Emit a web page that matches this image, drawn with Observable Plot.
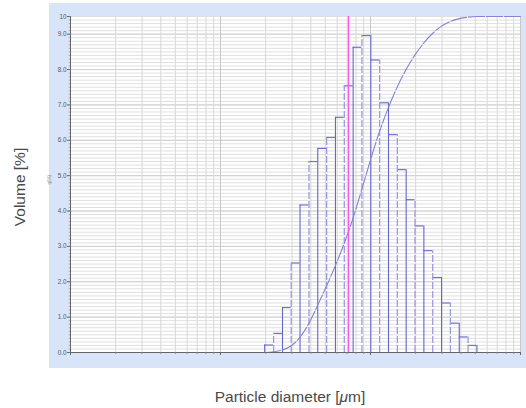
<!DOCTYPE html>
<html>
<head>
<meta charset="utf-8">
<script src="https://cdn.jsdelivr.net/npm/d3@7"></script>
<script src="https://cdn.jsdelivr.net/npm/@observablehq/plot@0.6"></script>
<style>
  html, body { margin: 0; padding: 0; background: #ffffff; }
  #wrap { position: relative; width: 526px; height: 408px; overflow: hidden; font-family: "Liberation Sans", Arial, sans-serif; }
  #panel { position: absolute; left: 49px; top: 3px; width: 477px; height: 365px; background: #d8e4f8; }
  #chart { position: absolute; left: 0; top: 0; }
  #ytitle { position: absolute; left: 20px; top: 187px; transform: translate(-50%, -50%) rotate(-90deg); white-space: nowrap; font-size: 15.5px; color: #4a4a4a; }
  #xtitle { position: absolute; left: 290px; top: 397px; transform: translate(-50%, -50%); white-space: nowrap; font-size: 15.5px; color: #4a4a4a; }
</style>
</head>
<body>
<div id="wrap">
  <div id="panel"></div>
  <div id="chart"></div>
  <div id="ytitle">Volume [%]</div>
  <div id="xtitle">Particle diameter [<i>μ</i>m]</div>
</div>
<script>
// Bin edges (µm) and volume per bin (%)
const binEdges = [0.197,0.226,0.259,0.296,0.339,0.389,0.445,0.510,0.584,0.669,0.766,0.877,1.005,1.151,1.318,1.510,1.729,1.981,2.269,2.599,2.976,3.409,3.905,4.472,5.122];
const volume = [0.21,0.54,1.27,2.53,4.17,5.40,5.77,6.08,6.65,7.54,8.63,8.96,8.27,7.06,6.16,5.17,4.32,3.58,2.88,2.12,1.40,0.83,0.44,0.20];
// Axis ticks and labels
const yTicks = [0,1,2,3,4,5,6,7,8,9,9.5];
const yTickLabels = ["0.0","1.0","2.0","3.0","4.0","5.0","6.0","7.0","8.0","9.0","10"];
const xTicks = [0.01,0.1,1,10];
const xTickLabels = ["0.010","0.100","1.000","10.00"];
const yMax = 9.5;
const markerX = [0.713];

// Derived tables
const bars = volume.map((v, i) => ({lo: binEdges[i], hi: binEdges[i+1], v}));
const edgeRows = binEdges.map((e, i) => ({x: e, h: Math.max(i > 0 ? volume[i-1] : 0, i < volume.length ? volume[i] : 0), i}));
const total = d3.sum(volume);
const cum = [0, ...d3.cumsum(volume)].map(c => c / total * 100);
const cumRows = binEdges.map((e, i) => ({x: e, c: cum[i]}));
cumRows.push({x: 10, c: 100});

const decades = [0.01, 0.1, 1];
const minorX = decades.flatMap(d => [2,3,4,5,6,7,8,9].map(m => d * m));
const yMinor = d3.range(0, 96).map(i => i / 10);

const chart = Plot.plot({
  width: 526,
  height: 408,
  marginLeft: 70,
  marginRight: 6,
  marginTop: 16,
  marginBottom: 56,
  style: {background: "transparent", fontFamily: "Liberation Sans, Arial, sans-serif"},
  x: {type: "log", domain: [0.01, 10], axis: null},
  y: {domain: [0, yMax], axis: null},
  marks: [
    Plot.frame({fill: "white", stroke: null}),
    Plot.ruleY(yMinor, {stroke: "#e0e0e0", strokeWidth: 1}),
    Plot.ruleY([0,1,2,3,4,5,6,7,8,9], {stroke: "#d0d0d0", strokeWidth: 1}),
    Plot.ruleX(minorX, {stroke: "#d8d8d8", strokeWidth: 1}),
    Plot.ruleX(xTicks, {stroke: "#c8c8c8", strokeWidth: 1}),
    // histogram tops
    Plot.ruleY(bars, {x1: "lo", x2: "hi", y: "v", stroke: "#7070d2", strokeWidth: 1.2}),
    // vertical bar edges, alternating style
    Plot.ruleX(edgeRows.filter(d => d.i % 2 === 0), {x: "x", y1: 0, y2: "h", stroke: "#6666cc", strokeWidth: 1.1}),
    Plot.ruleX(edgeRows.filter(d => d.i % 2 === 1), {x: "x", y1: 0, y2: "h", stroke: "#9c9ce0", strokeWidth: 1.3, strokeDasharray: "7,2"}),
    // cumulative curve
    Plot.line(cumRows, {x: "x", y: d => d.c * yMax / 100, curve: "monotone-x", stroke: "#8484d2", strokeWidth: 1.1, strokeDasharray: "16,2"}),
    // marker line
    Plot.ruleX(markerX, {stroke: "#ff55ee", strokeWidth: 1.2}),
    // axes
    Plot.ruleX([0.01], {stroke: "#666", strokeWidth: 1}),
    Plot.ruleY([0], {stroke: "#666", strokeWidth: 1}),
    Plot.axisY({ticks: yTicks, tickFormat: (d, i) => yTickLabels[i], tickSize: 3, tickPadding: 1, fontSize: 6.3, stroke: "#666", color: "#5a5a5a", label: null}),
    Plot.ruleY(yMinor, {x1: 0.0098, x2: 0.01, stroke: "#888", strokeWidth: 0.6}),
    Plot.axisX({ticks: xTicks, tickFormat: (d, i) => xTickLabels[i], tickSize: 3, tickPadding: 2, fontSize: 6.3, stroke: "#666", color: "#5a5a5a", label: null}),
    Plot.ruleX(minorX, {y1: 0, y2: -0.06, stroke: "#888", strokeWidth: 0.8}),
    Plot.text(["q(%)"], {frameAnchor: "left", dx: -21, dy: 0, rotate: -90, fontSize: 4.5, fill: "#8a8a8a"})
  ]
});
document.getElementById("chart").appendChild(chart);
</script>
</body>
</html>
